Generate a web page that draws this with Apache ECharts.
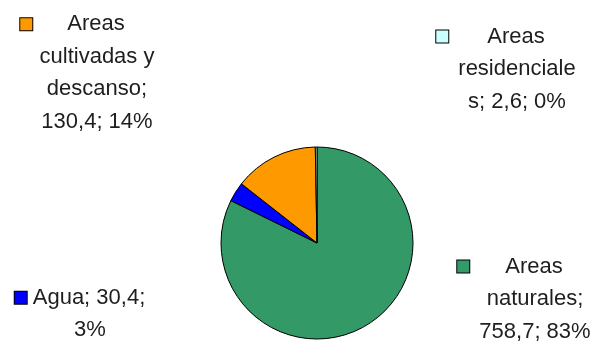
<!DOCTYPE html>
<html>
<head>
<meta charset="utf-8">
<script src="https://cdn.jsdelivr.net/npm/echarts@6/dist/echarts.min.js"></script>
<style>
  html, body { margin: 0; padding: 0; background: #ffffff; }
  #chart { width: 594px; height: 341px; }
</style>
</head>
<body>
<div id="chart"></div>
<script>
// Land use (data order follows the slices clockwise from 12 o'clock)
const categories = ['Areas naturales', 'Agua', 'Areas cultivadas y descanso', 'Areas residenciales'];
const values = [758.7, 30.4, 130.4, 2.6];
const percents = [83, 3, 14, 0];
const colors = ['#339966', '#0000ff', '#ff9900', '#ccffff'];

// Wrapped label text; %v = value, %p = percentage
const labelLines = [
  ['Areas', 'naturales;', '%v; %p%'],
  ['Agua; %v;', '%p%'],
  ['Areas', 'cultivadas y', 'descanso;', '%v; %p%'],
  ['Areas', 'residenciale', 's; %v; %p%']
];

// Label block centres and the gap between the colour key and the first line
const labelCenters = [[535, 299], [90, 314], [97, 73], [517, 69]];
const keyGaps = [36, 6, 35, 39];
const KEY = 14;

const fmtNum = v => String(v).replace('.', ',');

const rich = {};
colors.forEach((c, i) => {
  rich['k' + i] = { width: KEY - 2, height: KEY - 2, backgroundColor: c, borderColor: '#000', borderWidth: 1, verticalAlign: 'middle' };
  rich['g' + i] = { width: keyGaps[i], height: 1 };
  rich['r' + i] = { width: KEY + keyGaps[i], height: 1 };
});

const chart = echarts.init(document.getElementById('chart'), null, { renderer: 'canvas' });
chart.setOption({
  backgroundColor: '#ffffff',
  animation: false,
  series: [{
    type: 'pie',
    center: [317, 243],
    radius: 96,
    startAngle: 90,
    clockwise: true,
    avoidLabelOverlap: false,
    silent: true,
    data: categories.map((name, i) => ({ name, value: values[i], itemStyle: { color: colors[i] } })),
    itemStyle: { borderColor: '#000000', borderWidth: 1 },
    label: {
      show: true,
      position: 'outside',
      fontFamily: 'Liberation Sans, Arial, sans-serif',
      fontSize: 22,
      lineHeight: 32.5,
      color: '#1e1e1e',
      align: 'center',
      rich,
      formatter: p => {
        const i = p.dataIndex;
        const lines = labelLines[i].map(l => l.replace('%v', fmtNum(values[i])).replace('%p', percents[i]));
        lines[0] = '{k' + i + '|}{g' + i + '|}' + lines[0] + '{r' + i + '|}';
        return lines.join('\n');
      }
    },
    labelLine: { show: false },
    labelLayout: p => {
      const c = labelCenters[p.dataIndex];
      return { x: c[0], y: c[1], align: 'center', verticalAlign: 'middle', hideOverlap: false };
    },
    emphasis: { disabled: true }
  }]
});
</script>
</body>
</html>
